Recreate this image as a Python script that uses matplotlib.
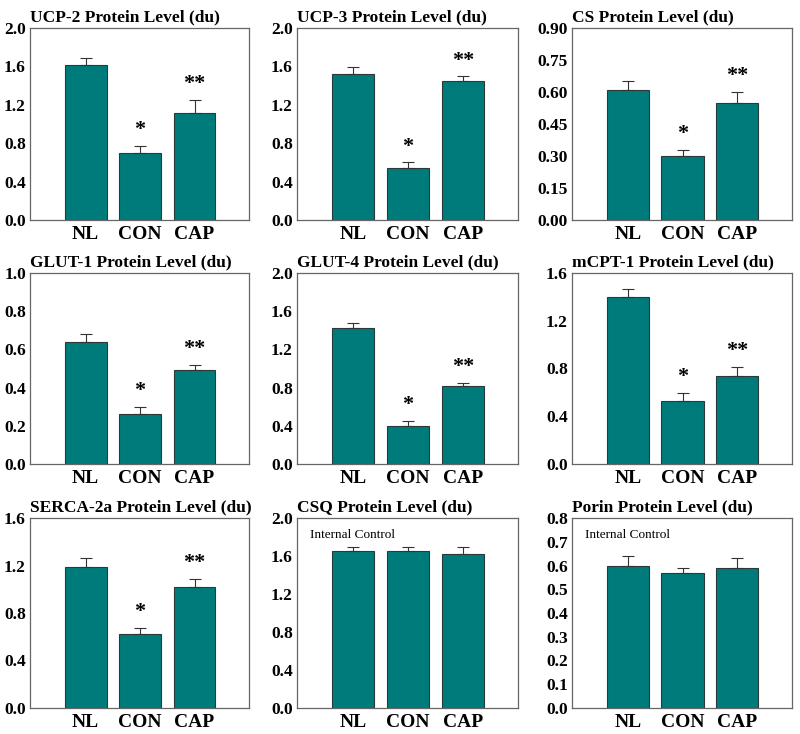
import numpy as np
import matplotlib
matplotlib.use('Agg')
from matplotlib import pyplot as plt

groups = ['NL', 'CON', 'CAP']

titles = ['UCP-2 Protein Level (du)', 'UCP-3 Protein Level (du)', 'CS Protein Level (du)',
          'GLUT-1 Protein Level (du)', 'GLUT-4 Protein Level (du)', 'mCPT-1 Protein Level (du)',
          'SERCA-2a Protein Level (du)', 'CSQ Protein Level (du)', 'Porin Protein Level (du)']

ucp2 = [1.61, 0.70, 1.11]
ucp2_err = [0.08, 0.07, 0.14]
ucp3 = [1.525, 0.545, 1.445]
ucp3_err = [0.065, 0.055, 0.05]
cs = [0.61, 0.30, 0.55]
cs_err = [0.04, 0.03, 0.05]
glut1 = [0.64, 0.26, 0.49]
glut1_err = [0.04, 0.04, 0.03]
glut4 = [1.42, 0.40, 0.82]
glut4_err = [0.06, 0.05, 0.03]
mcpt1 = [1.40, 0.53, 0.74]
mcpt1_err = [0.07, 0.065, 0.075]
serca = [1.19, 0.62, 1.02]
serca_err = [0.07, 0.055, 0.065]
csq = [1.65, 1.65, 1.62]
csq_err = [0.05, 0.05, 0.07]
porin = [0.60, 0.57, 0.59]
porin_err = [0.04, 0.02, 0.04]

values = [ucp2, ucp3, cs, glut1, glut4, mcpt1, serca, csq, porin]
errors = [ucp2_err, ucp3_err, cs_err, glut1_err, glut4_err, mcpt1_err, serca_err, csq_err, porin_err]

yticks = [np.arange(0, 2.01, 0.4), np.arange(0, 2.01, 0.4), np.arange(0, 0.91, 0.15),
          np.arange(0, 1.01, 0.2), np.arange(0, 2.01, 0.4), np.arange(0, 1.61, 0.4),
          np.arange(0, 1.61, 0.4), np.arange(0, 2.01, 0.4), np.arange(0, 0.81, 0.1)]
ytick_fmt = ['%.1f', '%.1f', '%.2f', '%.1f', '%.1f', '%.1f', '%.1f', '%.1f', '%.1f']
stars = [['', '*', '**']] * 7 + [['', '', ''], ['', '', '']]
notes = [''] * 7 + ['Internal Control', 'Internal Control']

plt.rcParams['font.family'] = ['Liberation Serif']

fig = plt.figure(figsize=(8, 7.34), dpi=100)
W, H = 800, 734
cols = [(30, 249), (297, 518), (572, 792)]
rows = [(28, 220), (273, 464), (518, 708)]

bar_color = '#007b7b'
x = np.arange(3)

for i in range(9):
    r, c = divmod(i, 3)
    l, rt = cols[c]
    t, b = rows[r]
    ax = fig.add_axes([l / W, 1 - b / H, (rt - l) / W, (b - t) / H])
    ax.bar(x, values[i], width=0.77, color=bar_color, edgecolor='#2a3a3a', linewidth=0.8, zorder=2)
    ax.errorbar(x, values[i], yerr=[np.zeros(3), errors[i]], fmt='none', ecolor='#333333',
                elinewidth=0.8, capsize=4, capthick=0.8, zorder=3)
    top = yticks[i][-1]
    ax.set_ylim(0, top)
    ax.set_xlim(-1.02, 3.0)
    ax.set_yticks(yticks[i])
    ax.set_yticklabels([ytick_fmt[i] % v for v in yticks[i]], fontsize=12.5, fontweight='bold')
    ax.set_xticks(x)
    ax.set_xticklabels(groups, fontsize=14, fontweight='bold')
    ax.tick_params(axis='x', length=0, pad=4)
    ax.tick_params(axis='y', length=0, pad=3)
    for s in ax.spines.values():
        s.set_color('#666666')
        s.set_linewidth(0.9)
    ax.set_title(titles[i], loc='left', fontsize=12.5, fontweight='bold', pad=5, x=0.0)
    for j in range(3):
        if stars[i][j]:
            ax.text(x[j], values[i][j] + errors[i][j] + top * 0.03, stars[i][j],
                    ha='center', va='bottom', fontsize=16, fontweight='bold')
    if notes[i]:
        ax.text(0.06, 0.94, notes[i], transform=ax.transAxes, ha='left', va='top', fontsize=9.5)

fig.savefig('out.png', dpi=100)
